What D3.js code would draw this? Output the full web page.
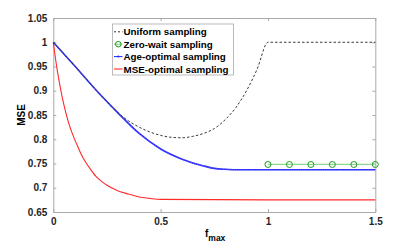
<!DOCTYPE html>
<html lang="en">
<head>
    <meta charset="UTF-8">
    <script src="https://d3js.org/d3.v7.min.js"></script>
    <style>
        body {
            margin: 0;
            background: white;
            font-family: "Liberation Sans", Arial, sans-serif;
        }
        .tick text {
            font-size: 10px;
            font-weight: bold;
            fill: #262626;
        }
        .legend text {
            font-size: 9.8px;
            font-weight: bold;
            fill: black;
        }
    </style>
</head>
<body>
    <div id="chart"></div>

    <script>
        // values
        const uniformF   = [0, 0.1, 0.2, 0.3, 0.35, 0.4, 0.45, 0.5, 0.55, 0.6, 0.65, 0.7, 0.75, 0.8, 0.85, 0.9, 0.95, 1.0, 1.5];
        const uniformMse = [1.0, 0.951, 0.901, 0.855, 0.838, 0.825, 0.815, 0.808, 0.804, 0.803, 0.806, 0.812, 0.822, 0.840, 0.865, 0.900, 0.945, 1.0, 1.0];

        const zeroWaitF   = [1.0, 1.1, 1.2, 1.3, 1.4, 1.5];
        const zeroWaitMse = [0.748, 0.748, 0.748, 0.748, 0.748, 0.748];

        const ageF   = [0, 0.1, 0.2, 0.3, 0.4, 0.5, 0.6, 0.7, 0.75, 0.8, 0.85, 1.0, 1.5];
        const ageMse = [1.0, 0.951, 0.901, 0.855, 0.812, 0.780, 0.759, 0.745, 0.740, 0.738, 0.737, 0.737, 0.737];

        const mseF   = [0, 0.01, 0.02, 0.03, 0.04, 0.05, 0.07, 0.09, 0.11, 0.13, 0.15, 0.175, 0.2, 0.225, 0.25, 0.3, 0.35, 0.4, 0.45, 0.5, 1.0, 1.5];
        const mseMse = [1.0, 0.967, 0.938, 0.913, 0.890, 0.870, 0.836, 0.810, 0.789, 0.769, 0.753, 0.737, 0.723, 0.713, 0.705, 0.694, 0.687, 0.681, 0.678, 0.676, 0.675, 0.675];

        const xTicks = [0, 0.5, 1, 1.5];
        const yTicks = [0.65, 0.7, 0.75, 0.8, 0.85, 0.9, 0.95, 1, 1.05];
        const legendLabels = ["Uniform sampling", "Zero-wait sampling", "Age-optimal sampling", "MSE-optimal sampling"];

        const margin = {top: 18, right: 39.7, bottom: 33, left: 53.3},
            width = 415 - margin.left - margin.right,
            height = 245 - margin.top - margin.bottom;

        const svg = d3.select("#chart")
            .append("svg")
            .attr("width", 415)
            .attr("height", 245)
            .append("g")
            .attr("transform", `translate(${margin.left},${margin.top})`);

        const x = d3.scaleLinear().domain([0, 1.5]).range([0, width]);
        const y = d3.scaleLinear().domain([0.65, 1.05]).range([height, 0]);

        const axisColor = "#aaaaaa";
        const fmt = d => String(+d.toFixed(2));

        // axes with inward ticks, box on
        const styleAxis = g => {
            g.select(".domain").attr("stroke", axisColor);
            g.selectAll(".tick line").attr("stroke", axisColor);
        };
        svg.append("g")
            .attr("transform", `translate(0,${height})`)
            .call(d3.axisBottom(x).tickValues(xTicks).tickFormat(fmt).tickSizeInner(-3).tickSizeOuter(0).tickPadding(6))
            .call(styleAxis);
        svg.append("g")
            .call(d3.axisTop(x).tickValues(xTicks).tickFormat("").tickSizeInner(-3).tickSizeOuter(0))
            .call(styleAxis);
        svg.append("g")
            .call(d3.axisLeft(y).tickValues(yTicks).tickFormat(fmt).tickSizeInner(-3).tickSizeOuter(0).tickPadding(6))
            .call(styleAxis);
        svg.append("g")
            .attr("transform", `translate(${width},0)`)
            .call(d3.axisRight(y).tickValues(yTicks).tickFormat("").tickSizeInner(-3).tickSizeOuter(0))
            .call(styleAxis);
        svg.selectAll(".tick text").attr("font-family", null);

        const line = d3.line().x(d => x(d[0])).y(d => y(d[1]));
        const pairs = (fs, vs) => fs.map((f, i) => [f, vs[i]]);

        // MSE-optimal
        svg.append("path").datum(pairs(mseF, mseMse))
            .attr("fill", "none").attr("stroke", "#ff2a2a").attr("stroke-width", 1.1)
            .attr("d", line.curve(d3.curveMonotoneX));

        // Age-optimal
        svg.append("path").datum(pairs(ageF, ageMse))
            .attr("fill", "none").attr("stroke", "#2020ff").attr("stroke-width", 1.6)
            .attr("d", line.curve(d3.curveMonotoneX));
        svg.append("path").datum(pairs(ageF, ageMse))
            .attr("fill", "none").attr("stroke", "#8080ff").attr("stroke-width", 0.7)
            .attr("stroke-dasharray", "1,1.2")
            .attr("d", line.curve(d3.curveMonotoneX));

        // Uniform
        svg.append("path").datum(pairs(uniformF, uniformMse))
            .attr("fill", "none").attr("stroke", "#3a3a3a").attr("stroke-width", 1)
            .attr("stroke-dasharray", "2.5,2")
            .attr("d", line.curve(d3.curveMonotoneX));

        // Zero-wait
        const zw = pairs(zeroWaitF, zeroWaitMse);
        svg.append("path").datum(zw)
            .attr("fill", "none").attr("stroke", "#8fd68f").attr("stroke-width", 1.2)
            .attr("d", line.curve(d3.curveLinear));
        svg.selectAll(".zw")
            .data(zw)
            .enter()
            .append("circle")
            .attr("class", "zw")
            .attr("cx", d => x(d[0]))
            .attr("cy", d => y(d[1]))
            .attr("r", 3)
            .attr("fill", "none")
            .attr("stroke", "#1f9a1f")
            .attr("stroke-width", 1);

        // legend
        const legend = svg.append("g").attr("class", "legend")
            .attr("transform", `translate(${112.5 - margin.left},${24 - margin.top})`);
        legend.append("rect")
            .attr("width", 121).attr("height", 51)
            .attr("fill", "white").attr("stroke", axisColor).attr("stroke-width", 0.8);
        const rowY = i => 7.8 + i * 12.4;
        legend.selectAll("text")
            .data(legendLabels)
            .enter()
            .append("text")
            .attr("x", 11)
            .attr("y", (d, i) => rowY(i) + 3.5)
            .text(d => d);
        // samples
        legend.append("line").attr("x1", 1.5).attr("x2", 10).attr("y1", rowY(0)).attr("y2", rowY(0))
            .attr("stroke", "#333").attr("stroke-dasharray", "2,2");
        legend.append("line").attr("x1", 1.5).attr("x2", 10).attr("y1", rowY(1)).attr("y2", rowY(1))
            .attr("stroke", "#8fd68f").attr("stroke-width", 1.2);
        legend.append("circle").attr("cx", 5.8).attr("cy", rowY(1)).attr("r", 2.8)
            .attr("fill", "none").attr("stroke", "#1f9a1f");
        legend.append("line").attr("x1", 1.5).attr("x2", 10).attr("y1", rowY(2)).attr("y2", rowY(2))
            .attr("stroke", "#2020ff").attr("stroke-width", 1);
        legend.append("circle").attr("cx", 5.8).attr("cy", rowY(2)).attr("r", 1)
            .attr("fill", "#2020ff");
        legend.append("line").attr("x1", 1.5).attr("x2", 10).attr("y1", rowY(3)).attr("y2", rowY(3))
            .attr("stroke", "#ff2a2a").attr("stroke-width", 1.1);

        // axis labels
        svg.append("text")
            .attr("transform", `translate(${25 - margin.left},${115 - margin.top}) rotate(-90)`)
            .attr("text-anchor", "middle")
            .attr("font-size", "10px").attr("font-weight", "bold")
            .text("MSE");
        const xl = svg.append("text")
            .attr("x", 205 - margin.left)
            .attr("y", 237 - margin.top)
            .attr("font-size", "10px").attr("font-weight", "bold");
        xl.append("tspan").text("f");
        xl.append("tspan").attr("dy", 4).attr("font-size", "8.5px").text("max");
    </script>
</body>
</html>
